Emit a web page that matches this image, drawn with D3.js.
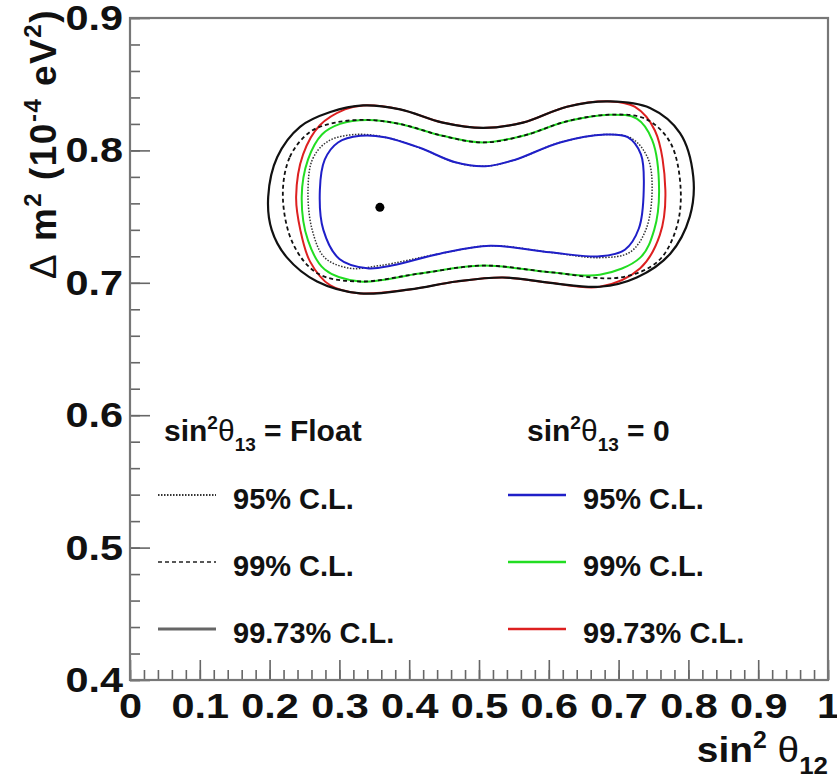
<!DOCTYPE html>
<html lang="en">
<head>
<meta charset="UTF-8">
<title>sin2 theta12 vs dm2 contours</title>
<script src="https://cdnjs.cloudflare.com/ajax/libs/d3/7.8.5/d3.min.js"></script>
<style>
html, body { margin: 0; padding: 0; background: #fff; }
svg { display: block; }
text { font-family: 'Liberation Sans', Arial, sans-serif; fill: #111; }
</style>
</head>
<body>
<svg id="canvas"></svg>
<script>
// contours as [sin^2 theta12, dm2 (1e-4 eV^2)]
let float95 = [[0.255,0.770],[0.262,0.794],[0.284,0.807],[0.322,0.812],[0.365,0.810],[0.415,0.802],[0.466,0.791],[0.509,0.788],[0.552,0.793],[0.616,0.806],[0.681,0.812],[0.719,0.809],[0.742,0.794],[0.748,0.770],[0.739,0.740],[0.716,0.723],[0.673,0.719],[0.602,0.723],[0.516,0.728],[0.444,0.722],[0.358,0.713],[0.315,0.711],[0.279,0.719],[0.261,0.740]]
let float99 = [[0.219,0.765],[0.229,0.795],[0.258,0.814],[0.294,0.821],[0.340,0.823],[0.387,0.820],[0.448,0.811],[0.506,0.806],[0.563,0.811],[0.626,0.822],[0.688,0.827],[0.738,0.824],[0.774,0.806],[0.789,0.770],[0.782,0.740],[0.756,0.716],[0.702,0.704],[0.602,0.708],[0.506,0.713],[0.415,0.707],[0.330,0.701],[0.269,0.707],[0.234,0.729]]
let float9973 = [[0.198,0.765],[0.211,0.795],[0.244,0.818],[0.287,0.829],[0.334,0.834],[0.387,0.831],[0.448,0.821],[0.506,0.817],[0.563,0.821],[0.626,0.833],[0.688,0.837],[0.745,0.832],[0.788,0.813],[0.807,0.780],[0.802,0.750],[0.774,0.722],[0.726,0.704],[0.673,0.697],[0.602,0.700],[0.534,0.704],[0.468,0.701],[0.401,0.695],[0.330,0.692],[0.268,0.701],[0.225,0.719],[0.203,0.740]]
let zero95 = [[0.272,0.770],[0.279,0.793],[0.298,0.806],[0.330,0.811],[0.365,0.810],[0.415,0.802],[0.466,0.791],[0.509,0.788],[0.552,0.793],[0.616,0.806],[0.681,0.812],[0.713,0.810],[0.732,0.797],[0.736,0.770],[0.729,0.741],[0.709,0.725],[0.673,0.720],[0.602,0.723],[0.516,0.728],[0.444,0.722],[0.375,0.713],[0.340,0.711],[0.300,0.718],[0.277,0.740]]
let zero99 = [[0.246,0.765],[0.255,0.793],[0.275,0.812],[0.301,0.820],[0.340,0.823],[0.387,0.820],[0.448,0.811],[0.506,0.806],[0.563,0.811],[0.626,0.822],[0.688,0.827],[0.726,0.824],[0.748,0.808],[0.758,0.770],[0.751,0.740],[0.731,0.719],[0.673,0.706],[0.602,0.708],[0.506,0.713],[0.415,0.707],[0.330,0.701],[0.279,0.710],[0.255,0.732]]
let zero9973 = [[0.238,0.765],[0.248,0.797],[0.272,0.819],[0.308,0.831],[0.334,0.834],[0.387,0.831],[0.448,0.821],[0.506,0.817],[0.563,0.821],[0.626,0.833],[0.688,0.837],[0.723,0.833],[0.752,0.815],[0.767,0.770],[0.759,0.736],[0.731,0.711],[0.673,0.697],[0.602,0.700],[0.534,0.704],[0.468,0.701],[0.401,0.695],[0.330,0.692],[0.287,0.698],[0.258,0.716],[0.244,0.740]]
let bestFit = [0.358, 0.757]

let xTicks = [0, 0.1, 0.2, 0.3, 0.4, 0.5, 0.6, 0.7, 0.8, 0.9, 1]
let yTicks = [0.4, 0.5, 0.6, 0.7, 0.8, 0.9]
let clLabels = ['95% C.L.', '99% C.L.', '99.73% C.L.']
let zeroColors = ['#1f1fc8', '#22dd22', '#dd2020']

let width = 837
let height = 780

let svg = d3.select('#canvas').attr('width', width).attr('height', height)

let x = d3.scaleLinear().domain([0, 1]).range([130, 828])
let y = d3.scaleLinear().domain([0.4, 0.9]).range([680, 18])

let fmt = (d) => (d === 0 || d === 1) ? String(d) : d.toFixed(1)

// axes, ticks pointing into the frame
let drawAxes = () => {
    let xMajor = d3.axisBottom(x).tickValues(xTicks).tickSize(-20).tickPadding(12).tickFormat(fmt)
    let xMinor = d3.axisBottom(x).tickValues(d3.range(0, 1.0001, 0.02)).tickSize(-10).tickFormat('')
    let yMajor = d3.axisLeft(y).tickValues(yTicks).tickSize(-20).tickPadding(6).tickFormat(fmt)
    let yMinor = d3.axisLeft(y).tickValues(d3.range(0.4, 0.9001, 0.02)).tickSize(-10).tickFormat('')

    let gx = svg.append('g').attr('transform', 'translate(0,' + y(0.4) + ')')
    gx.call(xMinor)
    gx.append('g').call(xMajor)
    let gy = svg.append('g').attr('transform', 'translate(' + x(0) + ',0)')
    gy.call(yMinor)
    gy.append('g').call(yMajor)

    svg.selectAll('.domain').remove()
    svg.selectAll('.tick line').attr('stroke', '#666').attr('stroke-width', 1.6)
    // the labels in the picture are a bit wider than the font
    svg.selectAll('.tick text')
        .attr('font-size', 36)
        .attr('font-weight', 'bold')
        .attr('fill', '#111')
        .attr('transform', 'scale(1.15,1)')
        .style('font-family', "'Liberation Sans', Arial, sans-serif")

    svg.append('rect')
        .attr('x', x(0)).attr('y', y(0.9))
        .attr('width', x(1) - x(0)).attr('height', y(0.4) - y(0.9))
        .attr('fill', 'none').attr('stroke', '#777').attr('stroke-width', 2.2)
}

// text with sub/superscripts built from parts
let richText = (g, parts, size) => {
    let t = g.append('text').attr('font-size', size)
    parts.forEach((p) => {
        t.append('tspan')
            .text(p.t)
            .attr('font-size', p.size || size)
            .attr('font-weight', p.normal ? 'normal' : 'bold')
            .attr('dy', p.dy || 0)
    })
    return t
}

let drawTitles = () => {
    richText(svg.append('g').attr('transform', 'translate(828,762) scale(1.08,1)'), [
        {t: 'sin'}, {t: '2', size: 23, dy: -14}, {t: ' \u03b8', normal: true, dy: 14},
        {t: '12', size: 24, dy: 12}
    ], 36).attr('text-anchor', 'end')

    richText(svg.append('g').attr('transform', 'translate(56,9) rotate(-90)'), [
        {t: '\u0394', normal: true}, {t: ' m'}, {t: '2', size: 24, dy: -15}, {t: ' (10', dy: 15},
        {t: '-4', size: 24, dy: -15}, {t: ' eV', dy: 15}, {t: '2', size: 24, dy: -15}, {t: ')', dy: 15}
    ], 37).attr('text-anchor', 'end').attr('letter-spacing', 1.5)
}

let drawContours = () => {
    let line = d3.line()
        .x((d) => x(d[0]))
        .y((d) => y(d[1]))
        .curve(d3.curveCatmullRomClosed.alpha(0.5))

    let layers = [
        {data: zero9973, color: zeroColors[2], w: 2, dash: null},
        {data: float9973, color: '#111', w: 2.2, dash: null},
        {data: zero99, color: zeroColors[1], w: 2, dash: null},
        {data: float99, color: '#111', w: 1.8, dash: '4,3'},
        {data: float95, color: '#333', w: 1.5, dash: '1.5,1.5'},
        {data: zero95, color: zeroColors[0], w: 2, dash: null}
    ]
    svg.append('g').selectAll('path')
        .data(layers)
        .enter()
        .append('path')
        .attr('d', (d) => line(d.data))
        .attr('fill', 'none')
        .attr('stroke', (d) => d.color)
        .attr('stroke-width', (d) => d.w)
        .attr('stroke-dasharray', (d) => d.dash)

    svg.append('circle')
        .attr('cx', x(bestFit[0]))
        .attr('cy', y(bestFit[1]))
        .attr('r', 4.5)
        .attr('fill', '#000')
}

let drawLegend = () => {
    let rowY = [495, 562, 629]
    let floatStyles = [
        {color: '#333', w: 2, dash: '1.5,1.5'},
        {color: '#222', w: 1.6, dash: '4,3'},
        {color: '#666', w: 3, dash: null}
    ]

    richText(svg.append('g').attr('transform', 'translate(164,441)'), [
        {t: 'sin'}, {t: '2', size: 19, dy: -12}, {t: '\u03b8', normal: true, dy: 12},
        {t: '13', size: 19, dy: 10}, {t: ' = Float', dy: -10}
    ], 30)
    richText(svg.append('g').attr('transform', 'translate(527,441)'), [
        {t: 'sin'}, {t: '2', size: 19, dy: -12}, {t: '\u03b8', normal: true, dy: 12},
        {t: '13', size: 19, dy: 10}, {t: ' = 0', dy: -10}
    ], 30)

    let rows = svg.append('g').selectAll('g')
        .data(clLabels)
        .enter()
        .append('g')
        .attr('transform', (d, i) => 'translate(0,' + rowY[i] + ')')

    rows.append('line')
        .attr('x1', 158).attr('x2', 216)
        .attr('stroke', (d, i) => floatStyles[i].color)
        .attr('stroke-width', (d, i) => floatStyles[i].w)
        .attr('stroke-dasharray', (d, i) => floatStyles[i].dash)
    rows.append('text')
        .attr('x', 233).attr('y', 14)
        .attr('font-size', 29).attr('font-weight', 'bold')
        .text((d) => d)

    rows.append('line')
        .attr('x1', 508).attr('x2', 566)
        .attr('stroke', (d, i) => zeroColors[i])
        .attr('stroke-width', 2.5)
    rows.append('text')
        .attr('x', 583).attr('y', 14)
        .attr('font-size', 29).attr('font-weight', 'bold')
        .text((d) => d)
}

drawContours()
drawAxes()
drawTitles()
drawLegend()
</script>
</body>
</html>
